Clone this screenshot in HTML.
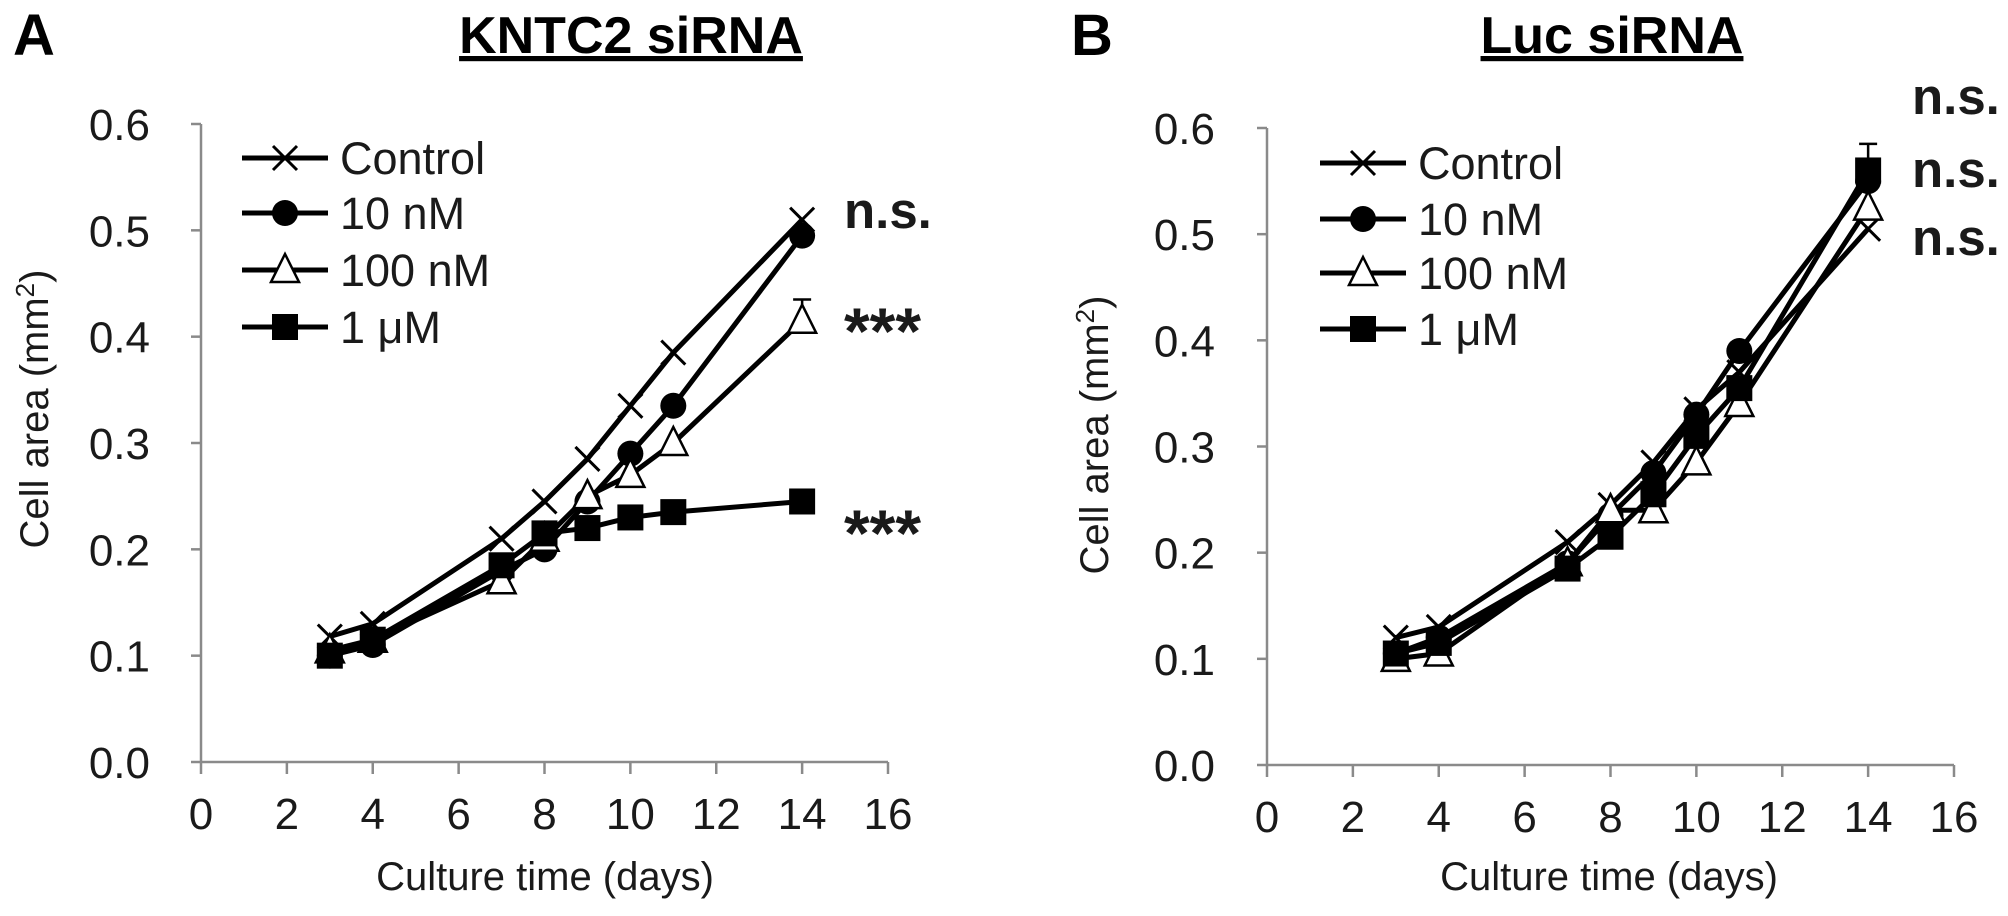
<!DOCTYPE html>
<html><head><meta charset="utf-8">
<style>
html,body{margin:0;padding:0;background:#fff;}
svg{display:block;font-family:"Liberation Sans",Arial,sans-serif;}
</style></head>
<body>
<svg id="fig" width="2008" height="916" viewBox="0 0 2008 916">
  <text x="13" y="55" font-size="58" font-weight="bold">A</text>
  <text x="631" y="53" font-size="52" font-weight="bold" text-anchor="middle" text-decoration="underline">KNTC2 siRNA</text>
  <text x="1071" y="55" font-size="58" font-weight="bold">B</text>
  <text x="1612" y="53" font-size="52" font-weight="bold" text-anchor="middle" text-decoration="underline">Luc siRNA</text>
</svg>
<script>
const days = [3,4,7,8,9,10,11,14];
const xTicks = [0,2,4,6,8,10,12,14,16];
const yTicks = [0.0,0.1,0.2,0.3,0.4,0.5,0.6];
const seriesNames = ["Control","10 nM","100 nM","1 \u03bcM"];
const seriesMarkers = ["x","circle","triangle","square"];
const aControl = [0.118,0.13,0.21,0.245,0.285,0.335,0.385,0.51];
const a10nM = [0.10,0.11,0.18,0.20,0.245,0.29,0.335,0.495];
const a100nM = [0.105,0.115,0.17,0.21,0.25,0.27,0.30,0.415];
const a1uM = [0.10,0.115,0.185,0.215,0.22,0.23,0.235,0.245];
const aErr100nM = [0,0,0,0,0,0,0,0.02];
const bControl = [0.12,0.13,0.21,0.245,0.285,0.335,0.37,0.505];
const b10nM = [0.105,0.12,0.19,0.235,0.275,0.33,0.39,0.55];
const b100nM = [0.10,0.105,0.19,0.24,0.24,0.285,0.34,0.525];
const b1uM = [0.105,0.115,0.185,0.215,0.255,0.31,0.355,0.56];
const bErr1uM = [0,0,0,0,0,0,0,0.025];
const aSig = ["n.s.","***","***"];
const bSig = ["n.s.","n.s.","n.s."];

const NS="http://www.w3.org/2000/svg";
const svg=document.getElementById('fig');
function mk(tag,attrs,parent){const e=document.createElementNS(NS,tag);for(const k in attrs)e.setAttribute(k,attrs[k]);(parent||svg).appendChild(e);return e;}

function marker(g,type,cx,cy){
  let m;
  if(type==="circle"){m=mk('circle',{cx:cx,cy:cy,r:13,fill:'#000'},g);}
  else if(type==="square"){m=mk('rect',{x:cx-13,y:cy-13,width:26,height:26,fill:'#000'},g);}
  else if(type==="triangle"){m=mk('polygon',{points:`${cx},${cy-16} ${cx-14},${cy+12} ${cx+14},${cy+12}`,fill:'#fff',stroke:'#000','stroke-width':2.5},g);}
  else {m=mk('path',{d:`M${cx-12},${cy-12}L${cx+12},${cy+12}M${cx+12},${cy-12}L${cx-12},${cy+12}`,stroke:'#000','stroke-width':3,fill:'none'},g);}
  
  
  return m;
}

function panel(p){
  const X=v=>p.x0+(v-0)*(p.x1-p.x0)/16;
  const Y=v=>p.y0-(v)*(p.y0-p.y1)/0.6;
  const g=mk('g',{});
  
  
  const ax=mk('path',{d:`M${p.x0},${p.y1}V${p.y0}H${p.x1}`,stroke:'#8a8a8a','stroke-width':2.5,fill:'none'},g);
  
  
  yTicks.forEach(v=>{
    mk('line',{x1:p.x0-10,x2:p.x0,y1:Y(v),y2:Y(v),stroke:'#8a8a8a','stroke-width':2.5},g);
    const t=mk('text',{x:p.ylx,y:Y(v)+16,'font-size':44,'text-anchor':'end',fill:'#1a1a1a'},g);
    t.textContent=v.toFixed(1);
    
    
  });
  xTicks.forEach(v=>{
    mk('line',{x1:X(v),x2:X(v),y1:p.y0,y2:p.y0+12,stroke:'#8a8a8a','stroke-width':2.5},g);
    const t=mk('text',{x:X(v),y:p.y0+67,'font-size':44,'text-anchor':'middle',fill:'#1a1a1a'},g);
    t.textContent=v;
    
    
  });
  const xt=mk('text',{x:p.xtx,y:890,'font-size':40,'text-anchor':'middle',fill:'#1a1a1a'},g);
  xt.textContent="Culture time (days)";
  
  
  const yt=mk('text',{x:0,y:0,'font-size':40,'text-anchor':'middle',fill:'#1a1a1a',transform:`translate(${p.ytx},${p.yty}) rotate(-90)`},g);
  yt.innerHTML='Cell area (mm<tspan dy="-14" font-size="26">2</tspan><tspan dy="14">)</tspan>';
  
  
  p.series.forEach((s,i)=>{
    const sg=mk('g',{},g);
    
    
    if(p.errs[i]){
      p.errs[i].forEach((e,j)=>{ if(e>0){
        mk('path',{d:`M${X(days[j])},${Y(s[j])}V${Y(s[j]+e)}M${X(days[j])-9},${Y(s[j]+e)}H${X(days[j])+9}`,stroke:'#000','stroke-width':2.5,fill:'none'},sg);
      }});
    }
    const pts=days.map((d,j)=>`${X(d)},${Y(s[j])}`).join(' ');
    const l=mk('polyline',{points:pts,fill:'none',stroke:'#000','stroke-width':5,'stroke-linejoin':'round'},sg);
    
    
    days.forEach((d,j)=>marker(sg,seriesMarkers[i],X(d),Y(s[j])));
  });
  seriesNames.forEach((n,i)=>{
    const lg=mk('g',{},g);
    
    
    const y=p.legY[i];
    mk('line',{x1:p.legX,x2:p.legX+86,y1:y,y2:y,stroke:'#000','stroke-width':5},lg);
    marker(lg,seriesMarkers[i],p.legX+43,y);
    const t=mk('text',{x:p.legX+98,y:y+16,'font-size':45,fill:'#1a1a1a'},lg);
    t.textContent=n;
  });
  p.sig.forEach((s,i)=>{
    const star = s.indexOf('*')>=0;
    const t=mk('text',{x:p.sigX,y:p.sigY[i],'font-size':star?66:51,'font-weight':'bold',fill:'#1a1a1a'},g);
    t.textContent=s;
    
    
  });
}

panel({id:'panel-a',x0:201,x1:888,y0:762,y1:124,ylx:150,xtx:545,ytx:48,yty:409,
  series:[aControl,a10nM,a100nM,a1uM],errs:[null,null,aErr100nM,null],
  legX:242,legY:[158,213,270,327],sig:aSig,sigX:844,
  sigY:[228,354,556]});
panel({id:'panel-b',x0:1267,x1:1954,y0:765,y1:128,ylx:1215,xtx:1609,ytx:1108,yty:435,
  series:[bControl,b10nM,b100nM,b1uM],errs:[null,null,null,bErr1uM],
  legX:1320,legY:[163,219,273,329],sig:bSig,sigX:1912,sigY:[114,187,255]});
</script>
</body></html>
